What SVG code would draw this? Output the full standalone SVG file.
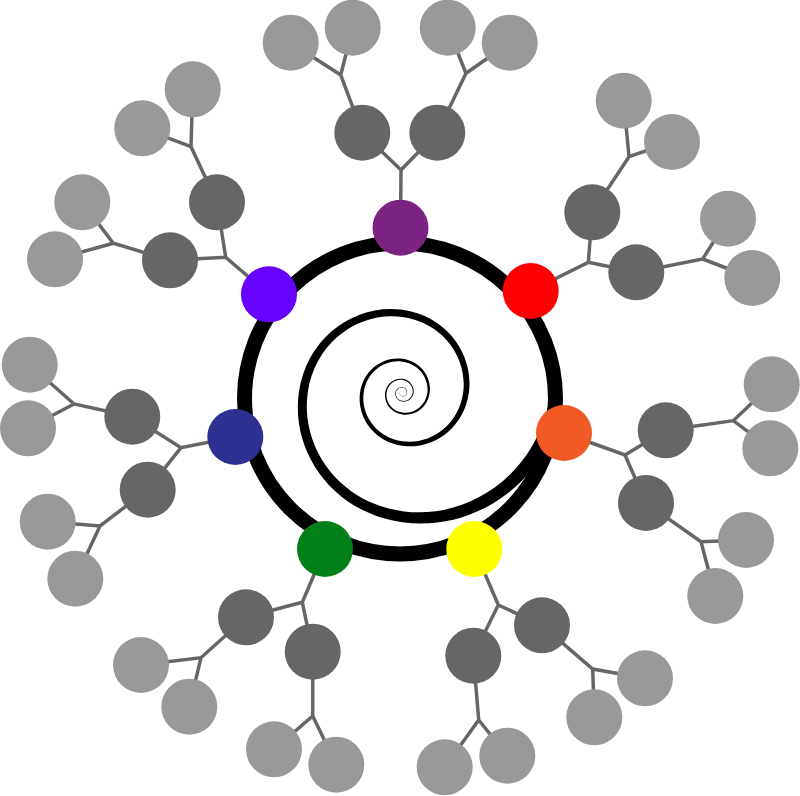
<svg xmlns="http://www.w3.org/2000/svg" width="800" height="796" viewBox="0 0 800 796">
<style>
.link{fill:none;stroke:#666;stroke-width:3.5}
.dark{fill:#666}
.light{fill:#999}
.ring{fill:none;stroke:#000;stroke-width:15}
</style>
<rect width="800" height="796" fill="#fff"/>
<g id="spiral">
<path transform="translate(402.5,392.7)" fill="#000" d="M -2.92,0 C -3.15,1.61 -2.02,3.36 0,3.65 C 2.02,3.94 4.20,2.52 4.56,0 C 4.92,-2.52 3.15,-5.26 0,-5.71 C -3.15,-6.16 -6.57,-3.94 -7.13,0 C -7.69,3.94 -4.92,8.20 0,8.90 C 4.92,9.60 10.26,6.15 11.13,0 C 12.00,-6.15 7.69,-12.83 0,-13.92 C -7.69,-15.01 -16.04,-9.61 -17.40,0 C -18.76,9.61 -12.01,20.04 0,21.75 C 12.01,23.46 25.05,15.01 27.18,0 C 29.31,-15.01 18.76,-31.31 0,-33.97 C -18.76,-36.63 -39.14,-23.46 -42.47,0 C -45.80,23.46 -29.32,48.93 0,53.09 C 29.32,57.25 61.16,36.65 66.36,0 C 71.56,-36.65 45.81,-76.45 0,-82.95 C -45.81,-89.45 -95.55,-57.26 -103.68,0 C -111.81,57.26 -71.58,119.44 0,129.60 C 67.18,139.12 140.41,95.57 159.38,13.95 L 145.66,12.75 C 128.31,87.33 61.40,127.14 0,118.44 C -65.41,109.15 -102.19,52.34 -94.76,0 C -87.33,-52.34 -41.86,-81.74 0,-75.80 C 41.86,-69.86 65.39,-33.49 60.64,0 C 55.89,33.49 26.79,52.31 0,48.51 C -26.79,44.71 -41.85,21.43 -38.81,0 C -35.77,-21.43 -17.15,-33.48 0,-31.05 C 17.15,-28.62 26.79,-13.72 24.84,0 C 22.89,13.72 10.97,21.43 0,19.87 C -10.97,18.31 -17.15,8.78 -15.90,0 C -14.65,-8.78 -7.03,-13.72 0,-12.72 C 7.03,-11.72 10.97,-5.62 10.17,0 C 9.37,5.62 4.50,8.78 0,8.14 C -4.50,7.50 -7.02,3.60 -6.51,0 C -6.00,-3.60 -2.88,-5.62 0,-5.21 C 2.88,-4.80 4.49,-2.30 4.16,0 C 3.83,2.30 1.84,3.59 0,3.33 C -1.84,3.07 -2.87,1.47 -2.66,0 Z"/>
<circle class="ring" cx="400" cy="398.5" r="155.5"/>
</g>
<g id="connectors">
<path class="link" d="M400.5,227.7 L401,170 L362.3,132.7 M401,170 L437.3,132.7"/>
<path class="link" d="M362.3,132.7 L340.7,75 L290.7,42.7 M340.7,75 L352.7,27.7"/>
<path class="link" d="M437.3,132.7 L466,73.3 L447.7,27.7 M466,73.3 L509.7,42.7"/>
<path class="link" d="M530.7,291 L588.3,262.3 L592.3,212.3 M588.3,262.3 L636.3,272.3"/>
<path class="link" d="M592.3,212.3 L629,156.7 L623.7,100.7 M629,156.7 L672,142"/>
<path class="link" d="M636.3,272.3 L702.7,259 L728,218.7 M702.7,259 L752.3,278"/>
<path class="link" d="M564,433 L625,455 L665.7,430.3 M625,455 L646,503"/>
<path class="link" d="M665.7,430.3 L733.3,420.7 L771.7,384.3 M733.3,420.7 L770.3,448.3"/>
<path class="link" d="M646,503 L701,541.7 L746,540 M701,541.7 L715.3,596"/>
<path class="link" d="M474.3,549 L498.3,605 L542,625.3 M498.3,605 L473.3,655.7"/>
<path class="link" d="M542,625.3 L592.7,669 L645,678.3 M592.7,669 L594.3,717.3"/>
<path class="link" d="M473.3,655.7 L478.7,720 L444.7,767.3 M478.7,720 L507.3,755.7"/>
<path class="link" d="M325,549 L302.3,602.3 L246,617.3 M302.3,602.3 L312.7,651.7"/>
<path class="link" d="M246,617.3 L201,657.7 L141,665 M201,657.7 L189.3,706.7"/>
<path class="link" d="M312.7,651.7 L312.7,716 L274,749.3 M312.7,716 L336.3,764.7"/>
<path class="link" d="M235.3,437 L181,447.7 L132.3,416.7 M181,447.7 L147.7,489.7"/>
<path class="link" d="M132.3,416.7 L74,404 L29.7,364.7 M74,404 L28,428.3"/>
<path class="link" d="M147.7,489.7 L100,526 L47.7,521.7 M100,526 L75.3,578.7"/>
<path class="link" d="M269,294.3 L225.7,257.3 L217,202.3 M225.7,257.3 L170,260.3"/>
<path class="link" d="M217,202.3 L191,146.7 L142.3,128.3 M191,146.7 L192.7,89.3"/>
<path class="link" d="M170,260.3 L113.3,243.3 L82.3,202.3 M113.3,243.3 L55,259.3"/>
</g>
<g id="purple-tree">
<circle cx="400.5" cy="227.7" r="28" fill="#7b2382"/>
<circle class="dark" cx="362.3" cy="132.7" r="28"/>
<circle class="dark" cx="437.3" cy="132.7" r="28"/>
<circle class="light" cx="290.7" cy="42.7" r="28"/>
<circle class="light" cx="352.7" cy="27.7" r="28"/>
<circle class="light" cx="447.7" cy="27.7" r="28"/>
<circle class="light" cx="509.7" cy="42.7" r="28"/>
</g>
<g id="red-tree">
<circle cx="530.7" cy="291" r="28" fill="#ff0000"/>
<circle class="dark" cx="592.3" cy="212.3" r="28"/>
<circle class="dark" cx="636.3" cy="272.3" r="28"/>
<circle class="light" cx="623.7" cy="100.7" r="28"/>
<circle class="light" cx="672" cy="142" r="28"/>
<circle class="light" cx="728" cy="218.7" r="28"/>
<circle class="light" cx="752.3" cy="278" r="28"/>
</g>
<g id="orange-tree">
<circle cx="564" cy="433" r="28" fill="#f15a24"/>
<circle class="dark" cx="665.7" cy="430.3" r="28"/>
<circle class="dark" cx="646" cy="503" r="28"/>
<circle class="light" cx="771.7" cy="384.3" r="28"/>
<circle class="light" cx="770.3" cy="448.3" r="28"/>
<circle class="light" cx="746" cy="540" r="28"/>
<circle class="light" cx="715.3" cy="596" r="28"/>
</g>
<g id="yellow-tree">
<circle cx="474.3" cy="549" r="28" fill="#ffff00"/>
<circle class="dark" cx="542" cy="625.3" r="28"/>
<circle class="dark" cx="473.3" cy="655.7" r="28"/>
<circle class="light" cx="645" cy="678.3" r="28"/>
<circle class="light" cx="594.3" cy="717.3" r="28"/>
<circle class="light" cx="444.7" cy="767.3" r="28"/>
<circle class="light" cx="507.3" cy="755.7" r="28"/>
</g>
<g id="green-tree">
<circle cx="325" cy="549" r="28" fill="#037f17"/>
<circle class="dark" cx="246" cy="617.3" r="28"/>
<circle class="dark" cx="312.7" cy="651.7" r="28"/>
<circle class="light" cx="141" cy="665" r="28"/>
<circle class="light" cx="189.3" cy="706.7" r="28"/>
<circle class="light" cx="274" cy="749.3" r="28"/>
<circle class="light" cx="336.3" cy="764.7" r="28"/>
</g>
<g id="navy-tree">
<circle cx="235.3" cy="437" r="28" fill="#2e3192"/>
<circle class="dark" cx="132.3" cy="416.7" r="28"/>
<circle class="dark" cx="147.7" cy="489.7" r="28"/>
<circle class="light" cx="29.7" cy="364.7" r="28"/>
<circle class="light" cx="28" cy="428.3" r="28"/>
<circle class="light" cx="47.7" cy="521.7" r="28"/>
<circle class="light" cx="75.3" cy="578.7" r="28"/>
</g>
<g id="violet-tree">
<circle cx="269" cy="294.3" r="28" fill="#6600ff"/>
<circle class="dark" cx="217" cy="202.3" r="28"/>
<circle class="dark" cx="170" cy="260.3" r="28"/>
<circle class="light" cx="142.3" cy="128.3" r="28"/>
<circle class="light" cx="192.7" cy="89.3" r="28"/>
<circle class="light" cx="82.3" cy="202.3" r="28"/>
<circle class="light" cx="55" cy="259.3" r="28"/>
</g>
</svg>
